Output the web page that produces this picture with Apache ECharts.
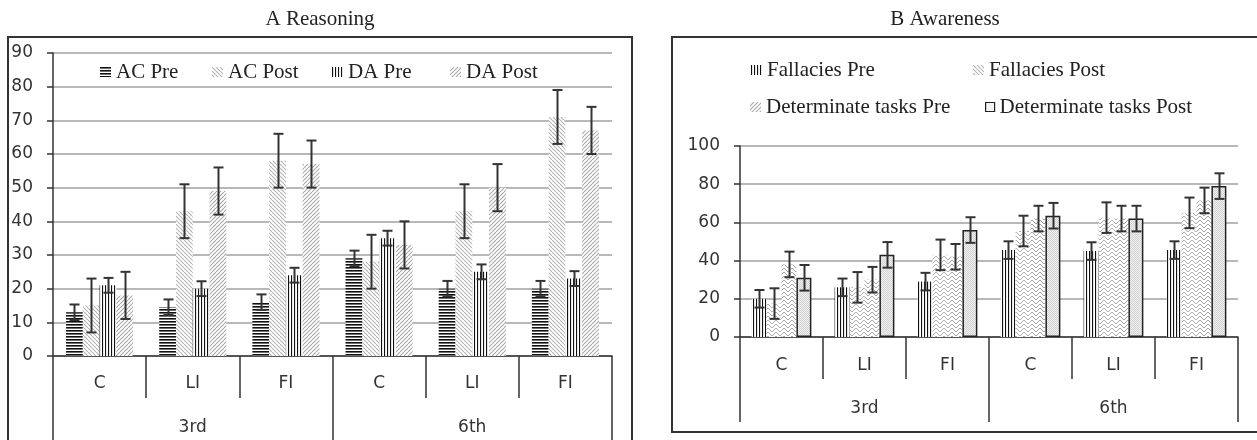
<!DOCTYPE html>
<html><head><meta charset="utf-8">
<script src="https://cdn.jsdelivr.net/npm/echarts@6/dist/echarts.min.js"></script>
<style>html,body{margin:0;padding:0;background:#fff}#c{width:1257px;height:440px}</style>
</head><body><div id="c"></div>
<script>
// ---- data ----
const categories = ['C', 'LI', 'FI', 'C', 'LI', 'FI'];
const groups = ['3rd', '6th'];

// Panel A: Reasoning
const acPre = [13, 14.5, 16, 29, 20, 20];
const acPreErr = [2.3, 2.3, 2.3, 2.3, 2.3, 2.3];
const acPost = [15, 43, 58, 28, 43, 71];
const acPostErr = [8, 8, 8, 8, 8, 8];
const daPre = [21, 20, 24, 35, 25, 23];
const daPreErr = [2.2, 2.2, 2.2, 2.2, 2.2, 2.2];
const daPost = [18, 49, 57, 33, 50, 67];
const daPostErr = [7, 7, 7, 7, 7, 7];

// Panel B: Awareness
const fallPre = [20, 26, 29, 45.5, 45, 45.5];
const fallPreErr = [4.6, 4.6, 4.6, 4.6, 4.6, 4.6];
const fallPost = [17.5, 26, 43, 55.5, 62.5, 65];
const fallPostErr = [8, 8, 8, 8, 8, 8];
const detPre = [38, 30, 42, 62, 62, 71.5];
const detPreErr = [6.7, 6.7, 6.7, 6.7, 6.7, 6.7];
const detPost = [31, 43, 56, 63.5, 62, 79];
const detPostErr = [6.7, 6.7, 6.7, 6.7, 6.7, 6.7];

// ---- patterns ----
function pat(w, h, draw) {
  const c = document.createElement('canvas');
  c.width = w; c.height = h;
  const g = c.getContext('2d');
  g.fillStyle = '#fff'; g.fillRect(0, 0, w, h);
  draw(g);
  return { image: c, repeat: 'repeat' };
}
const hLines = pat(4, 3, g => { g.fillStyle = '#111'; g.fillRect(0, 0, 4, 1.6); });
const vLines = pat(3, 4, g => { g.fillStyle = '#111'; g.fillRect(0, 0, 1.1, 4); });
function diag(color, back) {
  return pat(4, 4, g => {
    g.strokeStyle = color; g.lineWidth = 1.1; g.beginPath();
    for (let k = -4; k <= 4; k += 4) {
      if (back) { g.moveTo(k, 0); g.lineTo(k + 4, 4); }
      else { g.moveTo(k, 4); g.lineTo(k + 4, 0); }
    }
    g.stroke();
  });
}
const diagBack = diag('#b4b4b4', true);
const diagFwd = diag('#a8a8a8', false);
function chevron(color) {
  return pat(8, 4, g => {
    g.strokeStyle = color; g.lineWidth = 1; g.beginPath();
    for (let k = -4; k <= 4; k += 4) { g.moveTo(0, k); g.lineTo(4, k + 4); g.lineTo(8, k); }
    g.stroke();
  });
}
const chevA = chevron('#b0b0b0');
const chevB = chevron('#a4a4a4');
const dotted = pat(2, 2, g => { g.fillStyle = '#d2d2d2'; g.fillRect(0, 0, 1, 1); g.fillRect(1, 1, 1, 1); g.fillStyle = '#f0f0f0'; g.fillRect(1, 0, 1, 1); g.fillRect(0, 1, 1, 1); });

const GAP = 0.28;
const axisFont = { fontFamily: 'DejaVu Sans', fontSize: 17, color: '#333' };
const legFont = { fontFamily: 'Liberation Serif', fontSize: 21, color: '#222', lineHeight: 22 };

function bar(name, data, color, xi, yi, extra) {
  return Object.assign({
    name, type: 'bar', data, xAxisIndex: xi, yAxisIndex: yi,
    barGap: '0%', barCategoryGap: (GAP * 100) + '%',
    itemStyle: { color }, silent: true, animation: false
  }, extra || {});
}
function err(vals, errs, idx, xi, yi) {
  return {
    type: 'custom', xAxisIndex: xi, yAxisIndex: yi, z: 10, silent: true, animation: false,
    data: vals.map((v, i) => [i, v, errs[i]]),
    renderItem(params, api) {
      const i = api.value(0), v = api.value(1), e = api.value(2);
      const band = api.size([1, 0])[0];
      const total = band * (1 - GAP), bw = total / 4;
      const c = api.coord([i, v]);
      const x = Math.round(c[0] - total / 2 + bw * (idx + 0.5)) + 0.5;
      const yT = api.coord([i, v + e])[1], yB = api.coord([i, v - e])[1];
      const st = { stroke: '#333', lineWidth: 2 };
      return { type: 'group', children: [
        { type: 'line', shape: { x1: x, y1: yT, x2: x, y2: yB }, style: st },
        { type: 'line', shape: { x1: x - 5, y1: yT, x2: x + 5, y2: yT }, style: st },
        { type: 'line', shape: { x1: x - 5, y1: yB, x2: x + 5, y2: yB }, style: st }
      ] };
    }
  };
}
function xAxes(gi, catTick, grpTick, catMargin, grpMargin) {
  return [
    { type: 'category', gridIndex: gi, data: categories, position: 'bottom',
      axisLine: { show: true, lineStyle: { color: '#333', width: 1.5 } },
      axisTick: { show: true, interval: 0, length: catTick, lineStyle: { color: '#333', width: 1.5 } },
      axisLabel: Object.assign({ interval: 0, margin: catMargin }, axisFont) },
    { type: 'category', gridIndex: gi, data: groups, position: 'bottom', offset: catTick,
      axisLine: { show: false },
      axisTick: { show: true, interval: 0, length: grpTick, lineStyle: { color: '#333', width: 1.5 } },
      axisLabel: Object.assign({ interval: 0, margin: grpMargin }, axisFont) }
  ];
}
function yAxis(gi, max, interval) {
  return { type: 'value', gridIndex: gi, min: 0, max, interval,
    axisLine: { show: true, lineStyle: { color: '#333', width: 1.5 } },
    axisTick: { show: true, length: 6, lineStyle: { color: '#333', width: 1.5 } },
    axisLabel: Object.assign({ margin: 20 }, axisFont),
    splitLine: { show: true, lineStyle: { color: '#a0a0a0', width: 1.5 } } };
}
function leg(name, left, top, w, h, icStyle) {
  const d = icStyle ? { name, itemStyle: icStyle } : name;
  return { data: [d], left, top, itemWidth: w || 11, itemHeight: h || 10, itemGap: 0,
    padding: 0, textStyle: legFont, selectedMode: false, icon: 'rect' };
}

const chart = echarts.init(document.getElementById('c'), null, { renderer: 'canvas' });
chart.setOption({
  animation: false,
  backgroundColor: '#fff',
  grid: [
    { left: 53, top: 53, width: 559, height: 303 },
    { left: 740, top: 146, width: 498, height: 191 }
  ],
  xAxis: [].concat(xAxes(0, 42, 60, 19, 21), xAxes(1, 42, 43, 20, 21)),
  yAxis: [yAxis(0, 90, 10), yAxis(1, 100, 20)],
  legend: [
    leg('AC Pre', 100, 61), leg('AC Post', 212, 61), leg('DA Pre', 332, 61), leg('DA Post', 450, 61),
    leg('Fallacies Pre', 751, 59), leg('Fallacies Post', 973, 59, 11, 10, { color: diagBack }),
    leg('Determinate tasks Pre', 750, 96, 11, 10, { color: diagFwd }),
    leg('Determinate tasks Post', 985, 96, 9, 9, { color: '#f4f4f4', borderColor: '#222', borderWidth: 1.2 })
  ],
  graphic: [
    { type: 'rect', shape: { x: 8, y: 37, width: 624, height: 430 }, style: { fill: 'none', stroke: '#333', lineWidth: 2 }, z: -10 },
    { type: 'rect', shape: { x: 672, y: 37, width: 620, height: 395 }, style: { fill: 'none', stroke: '#333', lineWidth: 2 }, z: -10 },
    { type: 'text', x: 320, y: 19, style: { text: 'A Reasoning', font: '21px "Liberation Serif"', fill: '#222', textAlign: 'center', textVerticalAlign: 'middle' } },
    { type: 'text', x: 945, y: 19, style: { text: 'B Awareness', font: '21px "Liberation Serif"', fill: '#222', textAlign: 'center', textVerticalAlign: 'middle' } }
  ],
  series: [
    bar('AC Pre', acPre, hLines, 0, 0),
    bar('AC Post', acPost, diagBack, 0, 0),
    bar('DA Pre', daPre, vLines, 0, 0),
    bar('DA Post', daPost, diagFwd, 0, 0),
    err(acPre, acPreErr, 0, 0, 0),
    err(acPost, acPostErr, 1, 0, 0),
    err(daPre, daPreErr, 2, 0, 0),
    err(daPost, daPostErr, 3, 0, 0),
    bar('Fallacies Pre', fallPre, vLines, 2, 1),
    bar('Fallacies Post', fallPost, chevA, 2, 1),
    bar('Determinate tasks Pre', detPre, chevB, 2, 1),
    bar('Determinate tasks Post', detPost, dotted, 2, 1, { itemStyle: { color: dotted, borderColor: '#222', borderWidth: 1.5 } }),
    err(fallPre, fallPreErr, 0, 2, 1),
    err(fallPost, fallPostErr, 1, 2, 1),
    err(detPre, detPreErr, 2, 2, 1),
    err(detPost, detPostErr, 3, 2, 1)
  ]
});
</script></body></html>
